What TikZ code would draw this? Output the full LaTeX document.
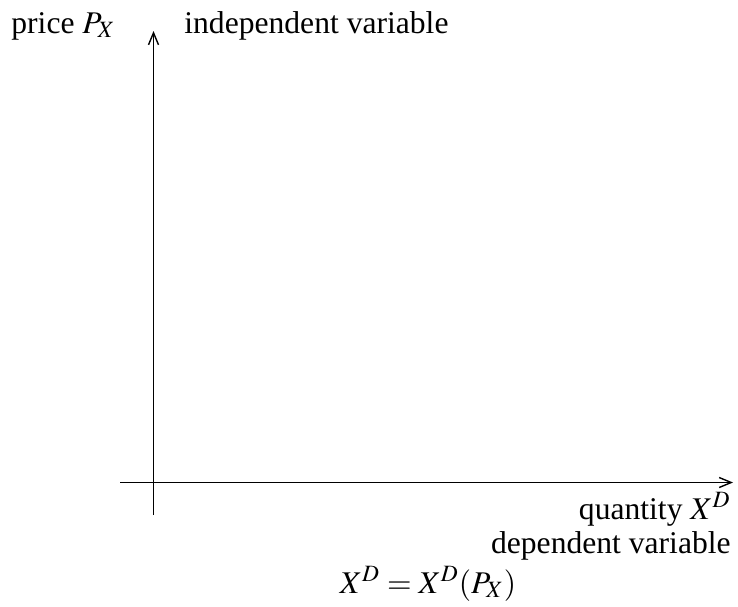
\documentclass[tikz,border=0pt]{standalone}
\usepackage{mathptmx}
\usepackage{fontspec}
\setmainfont{Liberation Serif}
\usetikzlibrary{arrows.meta,positioning}
\tikzset{%
  axis/.style={-{Straight Barb[length=6pt,width=5pt]}, line width=0.7pt},
  lbl/.style={inner sep=0pt, font=\fontsize{15.8}{18}\selectfont}%
}
\begin{document}
\begin{tikzpicture}[x=0.5pt, y=-0.5pt]
\useasboundingbox (0,0) rectangle (738,606);

% axes
\coordinate (xstart) at (120,482.5);
\coordinate (xend) at (733,482.5);
\coordinate (ystart) at (153.5,515);
\coordinate (yend) at (153.5,31);
\draw[axis] (xstart) -- (xend);
\draw[axis] (ystart) -- (yend);

% labels of the price axis
\node[lbl, anchor=base west] (price) at (11,33) {price $P_X$};
\node[lbl, anchor=base west] (indep) at (184,33) {independent variable};

% labels of the quantity axis
\node[lbl, anchor=base east] (quantity) at (731,519) {quantity $X^D$};
\node[lbl, anchor=base east] (dep) at (731,553) {dependent variable};

% demand function
\node[lbl, anchor=base] (demand) at (428,593) {$X^D = X^D(P_X)$};

\end{tikzpicture}
\end{document}
